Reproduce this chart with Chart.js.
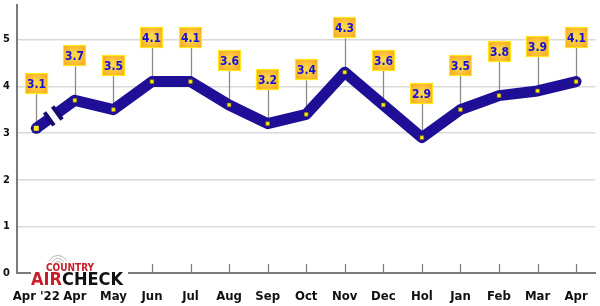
<!DOCTYPE html>
<html>
<head>
<meta charset="utf-8">
<script src="https://cdn.jsdelivr.net/npm/chart.js@4"></script>
<style>
  html, body { margin: 0; padding: 0; background: #fff; }
  #wrap { width: 600px; height: 306px; }
</style>
</head>
<body>
<div id="wrap"><canvas id="airplay"></canvas></div>
<script>
const months = ["Apr '22", 'Apr', 'May', 'Jun', 'Jul', 'Aug', 'Sep', 'Oct', 'Nov', 'Dec', 'Hol', 'Jan', 'Feb', 'Mar', 'Apr'];
const shares = [3.1, 3.7, 3.5, 4.1, 4.1, 3.6, 3.2, 3.4, 4.3, 3.6, 2.9, 3.5, 3.8, 3.9, 4.1];
const yTicks = [0, 1, 2, 3, 4, 5];

const lineColor = '#1e0f96';
const gridColor = '#d9d9d9';
const axisColor = '#7a7a7a';
const condensed = '"DejaVu Sans Condensed", "DejaVu Sans", sans-serif';

// small upward ticks on the x axis
const axisTicks = {
  id: 'axisTicks',
  beforeDatasetsDraw(chart) {
    const { ctx, scales: { x }, chartArea } = chart;
    ctx.save();
    ctx.strokeStyle = axisColor;
    ctx.lineWidth = 1.2;
    months.forEach((m, i) => {
      const px = Math.round(x.getPixelForValue(i)) + 0.5;
      ctx.beginPath();
      ctx.moveTo(px, chartArea.bottom);
      ctx.lineTo(px, chartArea.bottom - 9);
      ctx.stroke();
    });
    ctx.restore();
  }
};

// leader lines + orange value boxes
const valueBoxes = {
  id: 'valueBoxes',
  beforeDatasetsDraw(chart) {
    const { ctx } = chart;
    const meta = chart.getDatasetMeta(0);
    ctx.save();
    ctx.strokeStyle = '#8a8a8a';
    ctx.lineWidth = 1.3;
    meta.data.forEach(pt => {
      ctx.beginPath();
      ctx.moveTo(Math.round(pt.x) + 0.5, pt.y);
      ctx.lineTo(Math.round(pt.x) + 0.5, pt.y - 34);
      ctx.stroke();
    });
    ctx.restore();
  },
  afterDatasetsDraw(chart) {
    const { ctx } = chart;
    const meta = chart.getDatasetMeta(0);
    ctx.save();
    // break marks on first segment
    const p0 = meta.data[0], p1 = meta.data[1];
    const dx = p1.x - p0.x, dy = p1.y - p0.y;
    const len = Math.hypot(dx, dy);
    const ux = dx / len, uy = dy / len;
    ctx.fillStyle = lineColor;
    ctx.beginPath();
    ctx.arc(p0.x, p0.y, 5.5, 0, Math.PI * 2);
    ctx.fill();
    ctx.strokeStyle = '#140a70';
    ctx.lineWidth = 4;
    ctx.lineCap = 'butt';
    [16, 26].forEach(d => {
      const cx = p0.x + ux * d, cy = p0.y + uy * d;
      ctx.beginPath();
      ctx.moveTo(cx - uy * 8, cy + ux * 8);
      ctx.lineTo(cx + uy * 8, cy - ux * 8);
      ctx.stroke();
    });
    // redraw first point marker over the cap
    ctx.fillStyle = '#ffee10';
    ctx.fillRect(p0.x - 2.5, p0.y - 2.5, 5, 5);

    const w = 23, h = 21;
    meta.data.forEach((pt, i) => {
      const bx = Math.round(pt.x - w / 2), by = Math.round(pt.y - 34 - h);
      const g = ctx.createRadialGradient(bx + w / 2, by + h / 2, 2, bx + w / 2, by + h / 2, 15);
      g.addColorStop(0, '#ffd84a');
      g.addColorStop(1, '#f6a21e');
      ctx.fillStyle = g;
      ctx.fillRect(bx, by, w, h);
      ctx.strokeStyle = '#ffe81a';
      ctx.lineWidth = 1.2;
      ctx.strokeRect(bx + 0.5, by + 0.5, w - 1, h - 1);
      ctx.fillStyle = '#1212d8';
      ctx.font = 'bold 12px ' + condensed;
      ctx.textAlign = 'center';
      ctx.textBaseline = 'middle';
      ctx.fillText(shares[i].toFixed(1), bx + w / 2, by + h / 2 + 1);
    });
    ctx.restore();
  }
};

// COUNTRY AIRCHECK logo, bottom left
const logo = {
  id: 'logo',
  afterDraw(chart) {
    const { ctx } = chart;
    ctx.save();
    ctx.fillStyle = '#fff';
    ctx.fillRect(31, 262, 97, 24);
    ctx.strokeStyle = '#b5b5b5';
    ctx.lineWidth = 1;
    [3.5, 6.5, 9.5].forEach(r => {
      ctx.beginPath();
      ctx.arc(58, 265, r, Math.PI * 1.15, Math.PI * 1.85);
      ctx.stroke();
    });
    ctx.textBaseline = 'alphabetic';
    ctx.textAlign = 'left';
    ctx.fillStyle = '#c8202a';
    ctx.font = 'bold 10px ' + condensed;
    ctx.fillText('COUNTRY', 46, 271);
    ctx.font = 'bold 18px ' + condensed;
    ctx.fillText('AIR', 31, 285);
    const wAir = ctx.measureText('AIR').width;
    ctx.fillStyle = '#111';
    ctx.fillText('CHECK', 31 + wAir, 285);
    ctx.restore();
  }
};

new Chart(document.getElementById('airplay'), {
  type: 'line',
  data: {
    labels: months,
    datasets: [{
      data: shares,
      borderColor: lineColor,
      borderWidth: 11,
      borderCapStyle: 'round',
      borderJoinStyle: 'round',
      tension: 0,
      pointStyle: 'rect',
      pointRadius: 2.6,
      pointBackgroundColor: '#ffee10',
      pointBorderColor: '#8a7a00',
      pointBorderWidth: 0.6,
      segment: {
        borderDash: ctx => ctx.p0DataIndex === 0 ? [16, 10, 80] : undefined,
        borderCapStyle: ctx => ctx.p0DataIndex === 0 ? 'butt' : undefined
      }
    }]
  },
  options: {
    responsive: true,
    maintainAspectRatio: false,
    animation: false,
    layout: { padding: { left: 0, right: 1, top: 0, bottom: 0 } },
    plugins: {
      legend: { display: false },
      tooltip: { enabled: false }
    },
    scales: {
      x: {
        offset: true,
        grid: { display: false, drawTicks: false },
        border: { color: axisColor, width: 2 },
        ticks: {
          color: '#111',
          padding: 16,
          maxRotation: 0,
          autoSkip: false,
          font: { family: condensed, size: 13, weight: 'bold' }
        },
        afterFit(scale) {
          scale.height = 33;
          scale.paddingLeft = 0;
          scale.paddingRight = 0;
        }
      },
      y: {
        min: 0,
        max: 5.75,
        grid: { color: gridColor, lineWidth: 1.5, drawTicks: false },
        border: { color: axisColor, width: 2 },
        afterBuildTicks(scale) { scale.ticks = yTicks.map(v => ({ value: v })); },
        ticks: {
          color: '#111',
          padding: 7,
          font: { family: condensed, size: 11, weight: 'bold' }
        },
        afterFit(scale) {
          scale.width = 17;
          scale.paddingTop = 0;
          scale.paddingBottom = 0;
        }
      }
    }
  },
  plugins: [axisTicks, valueBoxes, logo]
});
</script>
</body>
</html>
